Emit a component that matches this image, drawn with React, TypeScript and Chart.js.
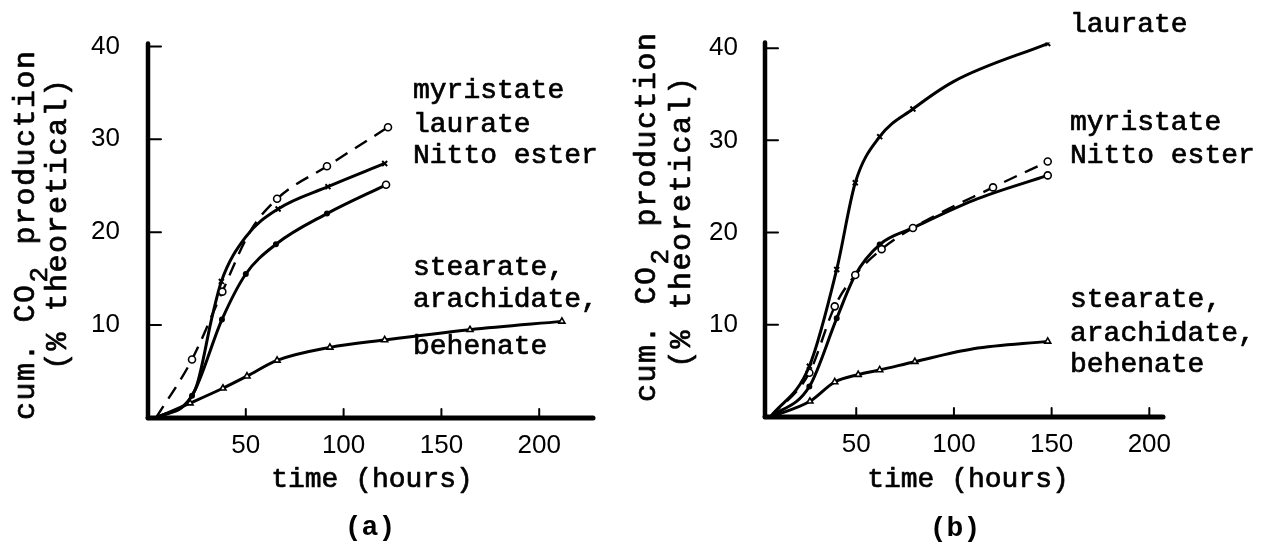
import React, { useEffect, useRef } from 'react';
import { Chart, registerables } from 'chart.js';

Chart.register(...registerables);

// ---------- shared ticks ----------
const xTickValues = [50, 100, 150, 200];
const yTickValues = [10, 20, 30, 40];
const xTitleText = 'time (hours)';
const yTitleLine1a = 'cum. CO';
const yTitleSub = '2';
const yTitleLine1b = ' production';
const yTitleLine2 = '(% theoretical)';

// ---------- panel (a) ----------
const aMyristateHours = [4, 22.5, 38, 52, 66, 91.5, 122.7];
const aMyristateValues = [0, 6.3, 13.6, 20.0, 23.6, 27.1, 31.3];
const aLaurateHours = [4, 24, 33, 37.5, 50, 66.5, 92, 121];
const aLaurateValues = [0, 3.0, 11.1, 14.7, 19.5, 22.5, 24.9, 27.4];
const aNittoHours = [4, 22.5, 37.8, 50, 65.4, 91.5, 121.7];
const aNittoValues = [0, 2.4, 10.6, 15.5, 18.7, 22.0, 25.1];
const aStearateHours = [4, 21.5, 38.3, 50.6, 66, 93, 121, 164.6, 211.6];
const aStearateValues = [0, 1.6, 3.2, 4.5, 6.2, 7.6, 8.4, 9.5, 10.4];
const aCurveLabels = ['myristate', 'laurate', 'Nitto ester', 'stearate,', 'arachidate,', 'behenate'];
const aPanelLabel = '(a)';

// ---------- panel (b) ----------
const bLaurateHours = [6, 26, 40, 49.5, 62, 79, 100, 148];
const bLaurateValues = [0, 5.5, 16, 25.4, 30.4, 33.4, 36.4, 40.5];
const bMyristateHours = [6, 26, 39, 49.5, 63, 79, 120, 148];
const bMyristateValues = [0, 4.8, 12.0, 15.4, 18.2, 20.5, 24.9, 27.7];
const bNittoHours = [6, 26, 40, 49.5, 62, 79, 110, 148];
const bNittoValues = [0, 3.3, 10.7, 15.4, 18.7, 20.5, 23.5, 26.2];
const bStearateHours = [6, 26.3, 39, 51, 62, 80, 110, 148];
const bStearateValues = [0, 1.7, 3.8, 4.6, 5.1, 6.0, 7.4, 8.2];
const bCurveLabels = ['laurate', 'myristate', 'Nitto ester', 'stearate,', 'arachidate,', 'behenate'];
const bPanelLabel = '(b)';

type Kind = 'myristate' | 'laurate' | 'nitto' | 'stearate';

// hidden: indices of curve readings that carry no marker in the figure
function series(hours: number[], values: number[], kind: Kind, hidden: number[] = []) {
  const data = hours.map((h, i) => ({ x: h, y: values[i] }));
  const last = data.length - 1;
  const off = (i: number) => i === 0 || hidden.includes(i);
  const base: any = {
    data,
    borderColor: '#000',
    borderWidth: 3,
    cubicInterpolationMode: 'monotone',
    fill: false,
    pointBorderColor: '#000',
    pointBorderWidth: 1.6,
    pointHoverRadius: 0,
  };
  if (kind === 'myristate') {
    base.borderDash = [14, 9];
    base.borderWidth = 2.4;
    base.pointStyle = 'circle';
    base.pointBackgroundColor = '#fff';
    base.pointRadius = (c: any) => (off(c.dataIndex) ? 0 : 3.5);
  } else if (kind === 'laurate') {
    base.pointStyle = 'crossRot';
    base.pointBorderWidth = 2;
    base.pointRadius = (c: any) => (off(c.dataIndex) ? 0 : 3.5);
  } else if (kind === 'nitto') {
    base.pointStyle = 'circle';
    base.pointBackgroundColor = (c: any) => (c.dataIndex === last ? '#fff' : '#000');
    base.pointRadius = (c: any) => (off(c.dataIndex) ? 0 : c.dataIndex === last ? 3.5 : 2.2);
  } else {
    base.pointStyle = 'triangle';
    base.pointBackgroundColor = '#fff';
    base.pointRadius = (c: any) => (off(c.dataIndex) ? 0 : 3.5);
  }
  return base;
}

interface Decor {
  labels: { text: string; x: number; y: number }[];
  xTitle: { x: number; y: number };
  panel: { text: string; x: number; y: number };
  yTitle: { x1: number; y1: number; x2: number; y2: number };
}

const decorPlugin = {
  id: 'decor',
  afterDatasetsDraw(chart: any) {
    const opts: Decor = chart.options.plugins.decor;
    const { ctx, chartArea: a, scales } = chart;
    const xs = scales.x;
    const ys = scales.y;
    ctx.save();
    ctx.strokeStyle = '#000';
    ctx.fillStyle = '#000';
    ctx.lineCap = 'round';
    const line = (x1: number, y1: number, x2: number, y2: number) => {
      ctx.beginPath();
      ctx.moveTo(x1, y1);
      ctx.lineTo(x2, y2);
      ctx.stroke();
    };
    ctx.lineWidth = 4.5;
    line(a.left, a.top, a.left, a.bottom);
    ctx.lineWidth = 5;
    line(a.left, a.bottom, a.right, a.bottom);
    ctx.lineWidth = 2;
    yTickValues.forEach((v) => {
      const py = ys.getPixelForValue(v);
      line(a.left, py, a.left + 13, py);
    });
    xTickValues.forEach((v) => {
      const px = xs.getPixelForValue(v);
      line(px, a.bottom, px, a.bottom - 9);
    });

    const txt = (t: string, x: number, y: number) => {
      ctx.fillText(t, x, y);
      ctx.strokeText(t, x, y);
    };
    ctx.lineWidth = 0.7;
    ctx.lineJoin = 'round';

    // curve labels
    ctx.font = '28px "Liberation Mono"';
    ctx.textBaseline = 'alphabetic';
    ctx.textAlign = 'left';
    opts.labels.forEach((l) => txt(l.text, l.x, l.y));

    // x title
    ctx.textAlign = 'center';
    txt(xTitleText, opts.xTitle.x, opts.xTitle.y);
    ctx.font = 'bold 28px "Liberation Mono"';
    ctx.fillText(opts.panel.text, opts.panel.x, opts.panel.y);

    // y title (rotated)
    const size = 30;
    const ls = 1.5;
    const pitch = size * 0.6 + ls;
    ctx.textAlign = 'left';
    ctx.save();
    ctx.translate(opts.yTitle.x1, opts.yTitle.y1);
    ctx.rotate(-Math.PI / 2);
    ctx.font = `${size}px "Liberation Mono"`;
    (ctx as any).letterSpacing = `${ls}px`;
    txt(yTitleLine1a, 0, 0);
    ctx.font = `26px "Liberation Mono"`;
    txt(yTitleSub, yTitleLine1a.length * pitch + 1, 13);
    ctx.font = `${size}px "Liberation Mono"`;
    txt(yTitleLine1b, (yTitleLine1a.length + 1) * pitch, 0);
    ctx.restore();
    ctx.save();
    ctx.translate(opts.yTitle.x2, opts.yTitle.y2);
    ctx.rotate(-Math.PI / 2);
    ctx.font = `${size}px "Liberation Mono"`;
    (ctx as any).letterSpacing = `${ls}px`;
    txt(yTitleLine2, 0, 0);
    ctx.restore();
    ctx.restore();
  },
};

interface PanelCfg {
  datasets: any[];
  xMin: number;
  xMax: number;
  yMax: number;
  padTop: number;
  padRight: number;
  yWidth: number;
  xHeight: number;
  yTickPad: number;
  decor: Decor;
}

function buildConfig(p: PanelCfg): any {
  return {
    type: 'line',
    data: { datasets: p.datasets },
    plugins: [decorPlugin],
    options: {
      animation: false,
      responsive: false,
      devicePixelRatio: 1,
      events: [],
      layout: { padding: { left: 0, top: p.padTop, right: p.padRight, bottom: 0 } },
      plugins: {
        legend: { display: false },
        tooltip: { enabled: false },
        decor: p.decor,
      },
      scales: {
        x: {
          type: 'linear',
          min: p.xMin,
          max: p.xMax,
          grid: { display: false, drawTicks: false },
          border: { display: false },
          afterBuildTicks: (s: any) => {
            s.ticks = xTickValues.map((v) => ({ value: v }));
          },
          afterFit: (s: any) => {
            s.height = p.xHeight;
          },
          ticks: {
            autoSkip: false,
            maxRotation: 0,
            padding: 12,
            color: '#000',
            font: { family: 'Liberation Sans', size: 26 },
            callback: (v: any) => String(v),
          },
        },
        y: {
          type: 'linear',
          min: 0,
          max: p.yMax,
          grid: { display: false, drawTicks: false },
          border: { display: false },
          afterBuildTicks: (s: any) => {
            s.ticks = yTickValues.map((v) => ({ value: v }));
          },
          afterFit: (s: any) => {
            s.width = p.yWidth;
          },
          ticks: {
            autoSkip: false,
            padding: p.yTickPad,
            color: '#000',
            font: { family: 'Liberation Sans', size: 26 },
            callback: (v: any) => String(v),
          },
        },
      },
    },
  };
}

const labelYsA = [98, 132, 163, 275, 307, 354];
const labelYsB = [32, 130, 163, 307, 341, 372];

const panelA: PanelCfg = {
  datasets: [
    series(aMyristateHours, aMyristateValues, 'myristate', [3]),
    series(aLaurateHours, aLaurateValues, 'laurate', [1, 2, 4]),
    series(aNittoHours, aNittoValues, 'nitto'),
    series(aStearateHours, aStearateValues, 'stearate'),
  ],
  xMin: 0,
  xMax: 227.5,
  yMax: 40.3,
  padTop: 27,
  padRight: 27,
  yWidth: 148,
  xHeight: 126,
  yTickPad: 28,
  decor: {
    labels: aCurveLabels.map((t, i) => ({ text: t, x: 413, y: labelYsA[i] })),
    xTitle: { x: 372, y: 487 },
    panel: { text: aPanelLabel, x: 370, y: 535 },
    yTitle: { x1: 34, y1: 420, x2: 66, y2: 370 },
  },
};

const panelB: PanelCfg = {
  datasets: [
    series(bLaurateHours, bLaurateValues, 'laurate', [6]),
    series(bMyristateHours, bMyristateValues, 'myristate'),
    series(bNittoHours, bNittoValues, 'nitto', [6]),
    series(bStearateHours, bStearateValues, 'stearate', [6]),
  ],
  xMin: 3.3,
  xMax: 207,
  yMax: 40.6,
  padTop: 23,
  padRight: 98,
  yWidth: 145,
  xHeight: 127,
  yTickPad: 27,
  decor: {
    labels: bCurveLabels.map((t, i) => ({ text: t, x: 450, y: labelYsB[i] })),
    xTitle: { x: 348, y: 487 },
    panel: { text: bPanelLabel, x: 335, y: 536 },
    yTitle: { x1: 35, y1: 402, x2: 70, y2: 368 },
  },
};

function Panel({ cfg, left, width }: { cfg: PanelCfg; left: number; width: number }) {
  const ref = useRef<HTMLCanvasElement | null>(null);
  useEffect(() => {
    if (!ref.current) return;
    const chart = new Chart(ref.current, buildConfig(cfg));
    return () => chart.destroy();
  }, [cfg]);
  return (
    <canvas
      ref={ref}
      width={width}
      height={544}
      style={{ position: 'absolute', left, top: 0, width, height: 544, display: 'block' }}
    />
  );
}

export default function App() {
  return (
    <div style={{ position: 'absolute', left: 0, top: 0, width: 1261, height: 544, background: '#fff', overflow: 'hidden' }}>
      <Panel cfg={panelA} left={0} width={620} />
      <Panel cfg={panelB} left={620} width={641} />
    </div>
  );
}
